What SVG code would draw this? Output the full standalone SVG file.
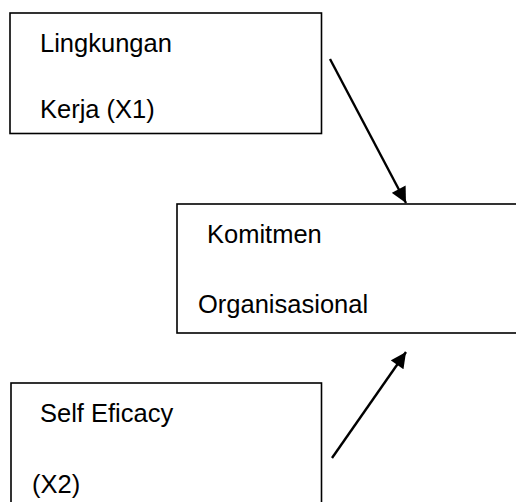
<svg xmlns="http://www.w3.org/2000/svg" width="516" height="502" viewBox="0 0 516 502">
<defs>
<style>
.box{fill:#fff;stroke:#000;stroke-width:1.6}
.t{font-family:"Liberation Sans",Arial,sans-serif;font-size:25.5px;fill:#000}
.c{stroke:#000;stroke-width:2.4;fill:none}
</style>
<marker id="ah" viewBox="0 0 10 10" refX="10" refY="5" markerWidth="7" markerHeight="6.5" markerUnits="strokeWidth" orient="auto">
<path d="M0,0 L10,5 L0,10 z" fill="#000"/>
</marker>
</defs>
<rect width="516" height="502" fill="#fff"/>
<g id="node-x1">
<rect class="box" x="10" y="13" width="311.5" height="120.5"/>
<text class="t" x="40" y="52">Lingkungan</text>
<text class="t" x="40" y="118">Kerja (X1)</text>
</g>
<g id="node-y">
<rect class="box" x="177" y="204" width="345" height="129"/>
<text class="t" x="207" y="243">Komitmen</text>
<text class="t" x="198" y="313">Organisasional</text>
</g>
<g id="node-x2">
<rect class="box" x="11" y="383" width="310.5" height="125"/>
<text class="t" x="40" y="422">Self Eficacy</text>
<text class="t" x="32" y="493">(X2)</text>
</g>
<g id="connectors">
<line class="c" x1="330" y1="59" x2="406" y2="203" marker-end="url(#ah)"/>
<line class="c" x1="332" y1="458" x2="406" y2="352" marker-end="url(#ah)"/>
</g>
</svg>
